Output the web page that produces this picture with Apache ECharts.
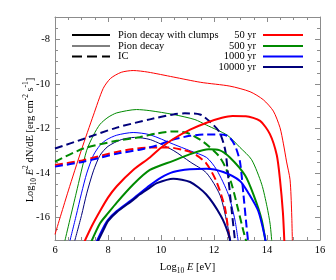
<!DOCTYPE html>
<html>
<head>
<meta charset="utf-8">
<script src="https://cdn.jsdelivr.net/npm/echarts@6/dist/echarts.min.js"></script>
<style>
html,body{margin:0;padding:0;background:#fff;}
#chart{width:336px;height:280px;}
</style>
</head>
<body>
<div id="chart"></div>
<script>
// ---- data (log10 E [eV], log10 E^2 dN/dE) ----
const xTicks = [6, 8, 10, 12, 14, 16];
const yTicks = [-16, -14, -12, -10, -8];

// 50 yr
const clumps50 = [[7.1,-17.1],[7.4,-16.35],[7.7,-15.7],[8.0,-15.1],[8.33,-14.59],[8.95,-13.86],[9.58,-13.3],[9.96,-12.9],[10.46,-12.47],[11.1,-12.05],[11.72,-11.74],[12.3,-11.52],[12.7,-11.44],[13.2,-11.45],[13.74,-11.66],[14.11,-12.25],[14.37,-13.2],[14.49,-14.29],[14.6,-15.76],[14.66,-17.2]];
const pion50 = [[6.0,-16.75],[6.5,-14.8],[7.0,-12.95],[7.45,-11.4],[7.82,-10.2],[8.1,-9.75],[8.5,-9.48],[8.95,-9.4],[9.5,-9.47],[10.46,-9.69],[11.5,-9.93],[12.6,-10.1],[13.36,-10.35],[13.86,-10.71],[14.24,-11.22],[14.49,-11.96],[14.62,-12.69],[14.74,-13.5],[14.87,-14.3],[14.93,-15.76],[14.96,-17.2]];
const ic50 = [[6.0,-13.64],[7.07,-13.42],[8.33,-13.05],[9.58,-12.85],[10.3,-12.85],[10.8,-12.95],[11.2,-13.1],[11.7,-13.55],[12.1,-14.4],[12.42,-15.6],[12.6,-17.2]];

// 500 yr
const clumps500 = [[7.36,-17.1],[7.7,-16.25],[8.0,-15.8],[8.33,-15.32],[8.95,-14.51],[9.58,-13.86],[10.46,-13.45],[11.1,-13.15],[11.8,-12.93],[12.2,-12.97],[12.6,-13.3],[13.17,-14.1],[13.5,-15.0],[13.8,-16.1],[13.96,-17.2]];
const pion500 = [[6.36,-17.1],[6.8,-14.9],[7.19,-13.0],[7.45,-12.3],[7.7,-11.81],[8.0,-11.5],[8.33,-11.3],[9.08,-11.15],[9.58,-11.2],[10.46,-11.37],[11.28,-11.6],[11.72,-11.85],[12.5,-12.3],[12.98,-12.85],[13.42,-13.4],[13.8,-14.5],[14.0,-15.5],[14.12,-16.3],[14.19,-17.2]];
const ic500 = [[6.0,-13.49],[7.07,-12.9],[8.33,-12.55],[9.2,-12.39],[9.84,-12.22],[10.46,-12.13],[11.0,-12.2],[11.6,-12.6],[12.16,-13.2],[12.42,-13.71],[12.67,-14.51],[12.92,-15.68],[13.11,-16.6],[13.25,-17.2]];

// 1000 yr
const clumps1000 = [[7.56,-17.1],[7.8,-16.5],[8.0,-16.1],[8.33,-15.7],[8.95,-15.15],[9.58,-14.55],[10.0,-14.2],[10.46,-13.95],[11.09,-13.83],[11.72,-13.8],[12.35,-13.95],[12.98,-14.35],[13.3,-14.9],[13.67,-15.7],[13.92,-16.86],[13.96,-17.2]];
const pion1000 = [[6.55,-17.1],[6.8,-15.9],[7.0,-14.9],[7.2,-14.0],[7.45,-13.2],[7.7,-12.75],[7.95,-12.5],[8.33,-12.3],[8.95,-12.18],[9.58,-12.28],[10.46,-12.7],[11.1,-13.0],[11.72,-13.3],[12.1,-13.85],[12.54,-14.95],[12.79,-16.1],[12.93,-17.2]];
const ic1000 = [[6.0,-13.71],[7.07,-13.49],[8.33,-13.13],[9.2,-12.95],[9.84,-12.76],[10.46,-12.5],[11.09,-12.33],[11.72,-12.27],[12.23,-12.27],[12.54,-12.35],[12.79,-12.76],[12.98,-13.49],[13.11,-14.95],[13.23,-16.42],[13.3,-17.2]];

// 10000 yr
const clumps10000 = [[7.6,-17.1],[7.85,-16.5],[8.0,-16.15],[8.33,-15.75],[8.95,-15.2],[9.21,-14.95],[9.58,-14.65],[9.84,-14.45],[10.46,-14.25],[11.1,-14.4],[11.7,-14.95],[12.25,-15.9],[12.54,-16.7],[12.63,-17.2]];
const pion10000 = [[6.73,-17.1],[7.0,-15.9],[7.2,-14.9],[7.45,-13.9],[7.7,-13.2],[8.0,-12.8],[8.5,-12.5],[9.0,-12.4],[9.6,-12.5],[10.46,-12.98],[11.1,-13.5],[11.72,-14.0],[12.23,-15.0],[12.54,-16.5],[12.66,-17.2]];
const ic10000 = [[6.0,-12.9],[7.07,-12.47],[8.33,-11.96],[9.58,-11.59],[10.46,-11.37],[10.9,-11.32],[11.47,-11.37],[11.85,-11.7],[12.2,-12.15],[12.42,-12.95],[12.54,-14.2],[12.67,-15.7],[12.81,-17.2]];

const ageLabels = ['50 yr', '500 yr', '1000 yr', '10000 yr'];
const typeLabels = ['Pion decay with clumps', 'Pion decay', 'IC'];
const ageColors = ['#ff0000', '#008a00', '#0000ff', '#00007a'];

const curves = [
  {data: pion50, c: 0, t: 1}, {data: pion500, c: 1, t: 1}, {data: pion1000, c: 2, t: 1}, {data: pion10000, c: 3, t: 1},
  {data: ic50, c: 0, t: 2}, {data: ic500, c: 1, t: 2}, {data: ic1000, c: 2, t: 2}, {data: ic10000, c: 3, t: 2},
  {data: clumps50, c: 0, t: 0}, {data: clumps500, c: 1, t: 0}, {data: clumps1000, c: 2, t: 0}, {data: clumps10000, c: 3, t: 0}
];

const FONT = '"Liberation Serif", "DejaVu Serif", serif';
const AX = '#8c8c8c';

const series = curves.map(cv => ({
  type: 'line',
  name: ageLabels[cv.c] + ' ' + typeLabels[cv.t],
  data: cv.data,
  xAxisIndex: 0, yAxisIndex: 0,
  showSymbol: false,
  symbol: 'none',
  smooth: 0.25,
  clip: true,
  silent: true,
  animation: false,
  lineStyle: {
    color: ageColors[cv.c],
    width: cv.t === 1 ? 1 : 2,
    type: cv.t === 2 ? [8, 4] : 'solid'
  }
}));

const chart = echarts.init(document.getElementById('chart'), null, {renderer: 'canvas'});

const baseAxisX = {
  type: 'value', min: 6, max: 16, interval: 2,
  axisLine: {show: true, lineStyle: {color: AX, width: 1}},
  axisTick: {show: true, inside: true, length: 5, lineStyle: {color: AX}},
  minorTick: {show: true, splitNumber: 4, length: 3, lineStyle: {color: AX}},
  splitLine: {show: false}
};
const baseAxisY = {
  type: 'value', min: -17, max: -7, splitNumber: 5,
  axisLine: {show: true, onZero: false, lineStyle: {color: AX, width: 1}},
  axisTick: {show: true, inside: true, length: 5, lineStyle: {color: AX}},
  minorTick: {show: true, splitNumber: 4, length: 3, lineStyle: {color: AX}},
  splitLine: {show: false}
};

const legendGraphics = [];
const lx0 = 72, lx1 = 110, ly = [35, 46, 56.5, 67];
typeLabels.forEach((lab, i) => {
  legendGraphics.push({
    type: 'line', shape: {x1: lx0, y1: ly[i], x2: lx1, y2: ly[i]},
    style: {stroke: '#000', lineWidth: i === 1 ? 1 : 2, lineDash: i === 2 ? [10, 5] : null}
  });
  legendGraphics.push({
    type: 'text', x: 118, y: ly[i],
    style: {text: lab, fill: '#000', font: '10.5px ' + FONT, textVerticalAlign: 'middle', verticalAlign: 'middle'}
  });
});
ageLabels.forEach((lab, i) => {
  legendGraphics.push({
    type: 'text', x: 256, y: ly[i],
    style: {text: lab, fill: '#000', font: '10.5px ' + FONT, align: 'right', textAlign: 'right', verticalAlign: 'middle', textVerticalAlign: 'middle'}
  });
  legendGraphics.push({
    type: 'line', shape: {x1: 263, y1: ly[i], x2: 303, y2: ly[i]},
    style: {stroke: ageColors[i], lineWidth: 2}
  });
});

// y-axis title (rotated)
legendGraphics.push({
  type: 'text', x: 30, y: 140, rotation: Math.PI / 2,
  style: {
    text: '{n|Log}{s|10}{n| }{i|E}{p|2}{n| dN/dE [erg cm}{p|-2}{n| s}{p|-1}{n|]}',
    align: 'center', verticalAlign: 'middle',
    rich: {
      n: {fontSize: 10.5, fontFamily: FONT, fill: '#000', lineHeight: 16},
      i: {fontSize: 10.5, fontFamily: FONT, fontStyle: 'italic', fill: '#000', lineHeight: 16},
      s: {fontSize: 7.5, fontFamily: FONT, fill: '#000', verticalAlign: 'bottom', lineHeight: 16},
      p: {fontSize: 7.5, fontFamily: FONT, fill: '#000', verticalAlign: 'top', lineHeight: 16}
    }
  }
});

const option = {
  backgroundColor: '#ffffff',
  animation: false,
  grid: {left: 55, right: 16, top: 17, bottom: 35, containLabel: false},
  xAxis: [
    Object.assign({}, baseAxisX, {
      position: 'bottom',
      axisLabel: {show: true, color: '#000', fontFamily: FONT, fontSize: 10.5, margin: 5},
      name: '{n|Log}{s|10}{n| }{i|E}{n| [eV]}',
      nameLocation: 'middle', nameGap: 19,
      nameTextStyle: {
        rich: {
          n: {fontSize: 10.5, fontFamily: FONT, color: '#000', lineHeight: 16},
          i: {fontSize: 10.5, fontFamily: FONT, fontStyle: 'italic', color: '#000', lineHeight: 16},
          s: {fontSize: 7.5, fontFamily: FONT, color: '#000', verticalAlign: 'bottom', lineHeight: 16}
        }
      }
    }),
    Object.assign({}, baseAxisX, {position: 'top', axisLabel: {show: false}})
  ],
  yAxis: [
    Object.assign({}, baseAxisY, {
      position: 'left',
      axisLabel: {show: true, color: '#000', fontFamily: FONT, fontSize: 10.5, margin: 5,
        showMinLabel: false, showMaxLabel: false,
        formatter: v => yTicks.indexOf(v) >= 0 ? String(v) : ''}
    }),
    Object.assign({}, baseAxisY, {position: 'right', axisLabel: {show: false}})
  ],
  graphic: {elements: legendGraphics},
  series: series
};
chart.setOption(option);
</script>
</body>
</html>
